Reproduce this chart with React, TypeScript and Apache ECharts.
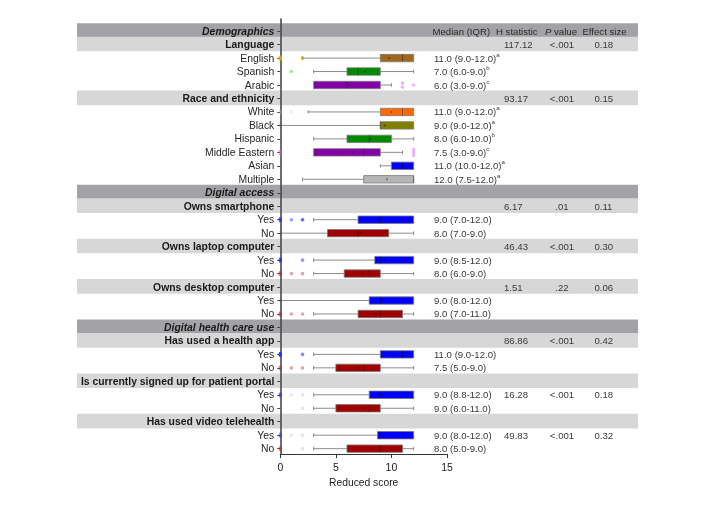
import React, { useEffect, useRef } from 'react';
import * as echarts from 'echarts';

const FONT = '"Liberation Sans", Arial, Helvetica, sans-serif';

const rowLabels = [
  'Demographics', 'Language', 'English', 'Spanish', 'Arabic', 'Race and ethnicity', 'White', 'Black',
  'Hispanic', 'Middle Eastern', 'Asian', 'Multiple', 'Digital access', 'Owns smartphone', 'Yes', 'No',
  'Owns laptop computer', 'Yes', 'No', 'Owns desktop computer', 'Yes', 'No', 'Digital health care use',
  'Has used a health app', 'Yes', 'No', 'Is currently signed up for patient portal', 'Yes', 'No',
  'Has used video telehealth', 'Yes', 'No',
];
const rowKinds = [
  'section', 'group', 'item', 'item', 'item', 'group', 'item', 'item', 'item', 'item', 'item', 'item',
  'section', 'group', 'item', 'item', 'group', 'item', 'item', 'group', 'item', 'item',
  'section', 'group', 'item', 'item', 'group', 'item', 'item', 'group', 'item', 'item',
];

// box rows (indices into rowLabels)
const boxRows = [2, 3, 4, 6, 7, 8, 9, 10, 11, 14, 15, 17, 18, 20, 21, 24, 25, 27, 28, 30, 31];
const boxColors = [
  '#a1661d', '#008a00', '#8200a6', '#ff6a00', '#808000', '#008a00', '#8200a6', '#0000ff', '#b5b5b5',
  '#0000ff', '#a00000', '#0000ff', '#a00000', '#0000ff', '#a00000', '#0000ff', '#a00000',
  '#0000ff', '#a00000', '#0000ff', '#a00000',
];
const pointColors = [
  '#e8a400', '#4cf04c', '#e65cff', '#ffa86a', '#808000', '#00a000', '#d050ff', '#0000ff', '#b5b5b5',
  '#2a2aff', '#c02020', '#2a2aff', '#c02020', '#2a2aff', '#c02020', '#2a2aff', '#c02020',
  '#2a2aff', '#c02020', '#2a2aff', '#c02020',
];
const whiskerLow = [2, 3, 3, 2.5, 0, 3, 3, 9, 2, 3, 0, 3, 3, 0, 3, 3, 3, 3, 3, 3, 3];
const q1 = [9, 6, 3, 9, 9, 6, 3, 10, 7.5, 7, 4.25, 8.5, 5.75, 8, 7, 9, 5, 8, 5, 8.75, 6];
const medians = [11, 7, 6, 11, 9, 8, 7.5, 11, 12, 9, 7, 9, 8, 9, 9, 11, 7.5, 9, 8, 9, 9];
const q3 = [12, 9, 9, 12, 12, 10, 9, 12, 12, 12, 9.75, 12, 9, 12, 11, 12, 9, 12, 9, 12, 11];
const whiskerHigh = [12, 12, 10, 12, 12, 12, 11, 12, 12, 12, 12, 12, 12, 12, 12, 12, 12, 12, 12, 12, 12];
const means = [9.8, 7.6, 6.2, 10, 9.4, 8.1, 6.5, 11, 9.6, 8.8, 7.2, 9.4, 7.4, 9.2, 8.6, 10.2, 7, 9.2, 7.5, 9.3, 8.2];

const medianLabels = [
  '11.0 (9.0-12.0)', '7.0 (6.0-9.0)', '6.0 (3.0-9.0)', '11.0 (9.0-12.0)', '9.0 (9.0-12.0)',
  '8.0 (6.0-10.0)', '7.5 (3.0-9.0)', '11.0 (10.0-12.0)', '12.0 (7.5-12.0)',
  '9.0 (7.0-12.0)', '8.0 (7.0-9.0)', '9.0 (8.5-12.0)', '8.0 (6.0-9.0)', '9.0 (8.0-12.0)', '9.0 (7.0-11.0)',
  '11.0 (9.0-12.0)', '7.5 (5.0-9.0)', '9.0 (8.8-12.0)', '9.0 (6.0-11.0)', '9.0 (8.0-12.0)', '8.0 (5.0-9.0)',
];
const medianSup = ['a', 'b', 'c', 'a', 'a', 'b', 'c', 'a', 'a', '', '', '', '', '', '', '', '', '', '', '', ''];

const headerTitles = ['Median (IQR)', 'H statistic', 'P value', 'Effect size'];
const statRows = [1, 5, 13, 16, 19, 23, 27, 30];
const hStats = ['117.12', '93.17', '6.17', '46.43', '1.51', '86.86', '16.28', '49.83'];
const pValues = ['<.001', '<.001', '.01', '<.001', '.22', '<.001', '<.001', '<.001'];
const effectSizes = ['0.18', '0.15', '0.11', '0.30', '0.06', '0.42', '0.18', '0.32'];

// outliers: row, value, vertical shift (px), opacity
const outlierRows = [2, 2, 3, 4, 4, 4, 6, 6, 9, 9, 9, 9, 14, 14, 14, 17, 17, 18, 18, 18, 21, 21, 21, 24, 24, 25, 25, 25, 27, 27, 27, 28, 30, 30, 30, 31, 31];
const outlierValues = [0, 2, 1, 11, 11, 12, 0, 1, 0, 12, 12, 12, 0, 1, 2, 0, 2, 0, 1, 2, 0, 1, 2, 0, 2, 0, 1, 2, 0, 1, 2, 2, 0, 1, 2, 0, 2];
const outlierShift = [0, 0, 0, -2, 2, 0, 0, 0, 0, -3, 0, 3, 0, 0, 0, 0, 0, 0, 0, 0, 0, 0, 0, 0, 0, 0, 0, 0, 0, 0, 0, 0, 0, 0, 0, 0, 0];
const outlierAlpha = [0.9, 0.85, 0.6, 0.5, 0.5, 0.45, 0.3, 0.3, 0.6, 0.4, 0.4, 0.4, 0.8, 0.45, 0.7, 0.8, 0.5, 0.6, 0.4, 0.4, 0.6, 0.4, 0.4, 0.9, 0.55, 0.5, 0.4, 0.4, 0.6, 0.12, 0.15, 0.15, 0.5, 0.12, 0.15, 0.5, 0.15];

export default function App() {
  const ref = useRef<HTMLDivElement>(null);
  useEffect(() => {
    const chart = echarts.init(ref.current!, null, { renderer: 'svg' });
    const boxData = boxRows.map((r, i) => [r, whiskerLow[i], q1[i], medians[i], q3[i], whiskerHigh[i], means[i]]);
    const bandData = rowKinds.map((k, i) => (k === 'item' ? null : [0, i])).filter((d) => d !== null);
    const tableData = rowLabels.map((_, i) => [0, i]);
    const scatterData = outlierRows.map((r, i) => {
      const bi = boxRows.indexOf(r);
      const atZero = outlierValues[i] === 0;
      return {
        value: [outlierValues[i], r],
        symbolOffset: [0, outlierShift[i]],
        symbolSize: atZero ? [3.6, 5.5] : 3.6,
        itemStyle: { color: pointColors[bi], opacity: outlierAlpha[i] },
      };
    });

    const txt = (text: string, x: number, y: number, align: string, extra: any = {}) => ({
      type: 'text',
      x,
      y,
      style: {
        text,
        align,
        verticalAlign: 'middle',
        fill: '#3a3a3a',
        fontSize: 9.6,
        fontFamily: FONT,
        ...extra,
      },
    });

    const option: any = {
      animation: false,
      grid: [
        { left: 280.3, right: 263, top: 24.4, bottom: 49.6 },
        { left: 280.3, right: 263, top: 19, bottom: 51 },
      ],
      xAxis: [
        { gridIndex: 0, type: 'value', min: 0, max: 15, show: false },
        {
          gridIndex: 1, type: 'value', min: 0, max: 15, interval: 5, z: 6,
          axisLine: { show: true, onZero: false, lineStyle: { color: '#333', width: 1 } },
          axisTick: { show: true, length: 4, lineStyle: { color: '#333' } },
          axisLabel: { fontSize: 10.5, color: '#1a1a1a', fontFamily: FONT, margin: 7 },
          splitLine: { show: false },
          name: 'Reduced score', nameLocation: 'middle', nameGap: 23,
          nameTextStyle: { fontSize: 10.3, color: '#1a1a1a', fontFamily: FONT },
        },
      ],
      yAxis: [
        {
          gridIndex: 0, type: 'category', inverse: true, data: rowLabels, z: 5,
          axisLine: { show: false },
          axisTick: { show: true, alignWithLabel: true, length: 3, lineStyle: { color: '#444' } },
          splitLine: { show: false },
          axisLabel: {
            interval: 0, margin: 6,
            formatter: (value: string, index: number) => {
              const k = rowKinds[index];
              return k === 'section' ? `{s|${value}}` : k === 'group' ? `{g|${value}}` : `{n|${value}}`;
            },
            rich: {
              s: { fontWeight: 'bold', fontStyle: 'italic', fontSize: 10.4, color: '#1a1a1a', fontFamily: FONT },
              g: { fontWeight: 'bold', fontSize: 10.4, color: '#1a1a1a', fontFamily: FONT },
              n: { fontSize: 10.4, color: '#262626', fontFamily: FONT },
            },
          },
        },
        {
          gridIndex: 1, type: 'value', min: 0, max: 1, z: 6,
          axisLine: { show: true, onZero: false, lineStyle: { color: '#4a4a4a', width: 1.6 } },
          axisTick: { show: false }, axisLabel: { show: false }, splitLine: { show: false },
        },
      ],
      series: [
        {
          type: 'custom', xAxisIndex: 0, yAxisIndex: 0, z: 1, clip: false, silent: true,
          data: bandData,
          encode: { x: 0, y: 1 },
          renderItem: (params: any, api: any) => {
            const row = api.value(1);
            const y = api.coord([0, row])[1];
            const s = api.size([0, 1])[1];
            const h = s + 1.2;
            return {
              type: 'rect',
              shape: { x: 77, y: y - h / 2 - 0.6, width: 561, height: h },
              style: { fill: rowKinds[row] === 'section' ? '#a3a3a7' : '#d7d7d7' },
            };
          },
        },
        {
          type: 'custom', xAxisIndex: 0, yAxisIndex: 0, z: 3, clip: false, silent: true,
          data: boxData,
          encode: { x: [1, 2, 3, 4, 5, 6], y: 0 },
          renderItem: (params: any, api: any) => {
            const row = api.value(0);
            const px = (v: number) => api.coord([v, row])[0];
            const y = api.coord([0, row])[1];
            const h = 7.4;
            const xLo = px(api.value(1)), xA = px(api.value(2)), xM = px(api.value(3));
            const xB = px(api.value(4)), xHi = px(api.value(5)), xMean = px(api.value(6));
            const color = boxColors[params.dataIndex];
            const wStyle = { stroke: '#8c8c8c', lineWidth: 1 };
            const children: any[] = [];
            if (xA - xLo > 0.5) {
              children.push({ type: 'line', shape: { x1: xLo, y1: y, x2: xA, y2: y }, style: wStyle });
              children.push({ type: 'line', shape: { x1: xLo, y1: y - 1.8, x2: xLo, y2: y + 1.8 }, style: wStyle });
            }
            if (xHi - xB > 0.5) {
              children.push({ type: 'line', shape: { x1: xB, y1: y, x2: xHi, y2: y }, style: wStyle });
              children.push({ type: 'line', shape: { x1: xHi, y1: y - 1.8, x2: xHi, y2: y + 1.8 }, style: wStyle });
            }
            children.push({
              type: 'rect',
              shape: { x: xA, y: y - h / 2, width: xB - xA, height: h },
              style: { fill: color, stroke: '#7a7a7a', lineWidth: 0.8 },
            });
            children.push({
              type: 'line',
              shape: { x1: xM, y1: y - h / 2, x2: xM, y2: y + h / 2 },
              style: { stroke: 'rgba(0,0,0,0.35)', lineWidth: 1 },
            });
            children.push({
              type: 'circle',
              shape: { cx: xMean, cy: y, r: 0.9 },
              style: { fill: 'rgba(0,0,0,0.45)' },
            });
            return { type: 'group', children };
          },
        },
        {
          type: 'scatter', xAxisIndex: 0, yAxisIndex: 0, z: 7, clip: false, silent: true,
          symbol: 'circle', symbolSize: 3.6,
          data: scatterData,
        },
        {
          type: 'custom', xAxisIndex: 0, yAxisIndex: 0, z: 4, clip: false, silent: true,
          data: tableData,
          encode: { x: 0, y: 1 },
          renderItem: (params: any, api: any) => {
            const row = api.value(1);
            const y = api.coord([0, row])[1];
            const children: any[] = [];
            if (row === 0) {
              children.push(txt(headerTitles[0], 432.5, y, 'left', { fill: '#2a2a2a' }));
              children.push(txt(headerTitles[1], 496, y, 'left', { fill: '#2a2a2a' }));
              children.push(txt('{i|P} value', 561, y, 'center', {
                fill: '#2a2a2a',
                rich: { i: { fontStyle: 'italic', fontSize: 9.6, fontFamily: FONT, fill: '#2a2a2a' } },
              }));
              children.push(txt(headerTitles[3], 604.5, y, 'center', { fill: '#2a2a2a' }));
            }
            const bi = boxRows.indexOf(row);
            if (bi >= 0) {
              const sup = medianSup[bi];
              children.push(txt(`{m|${medianLabels[bi]}}` + (sup ? `{s|${sup}}` : ''), 434, y, 'left', {
                rich: {
                  m: { fontSize: 9.6, fontFamily: FONT, lineHeight: 14, fill: '#3a3a3a' },
                  s: { fontSize: 6.2, fontFamily: FONT, verticalAlign: 'top', fill: '#3a3a3a' },
                },
              }));
            }
            const si = statRows.indexOf(row);
            if (si >= 0) {
              children.push(txt(hStats[si], 504, y, 'left'));
              children.push(txt(pValues[si], 562, y, 'center'));
              children.push(txt(effectSizes[si], 594.5, y, 'left'));
            }
            return { type: 'group', children };
          },
        },
      ],
    };
    chart.setOption(option);
    return () => chart.dispose();
  }, []);
  return <div ref={ref} style={{ position: 'fixed', left: 0, top: 0, width: 710, height: 505 }} />;
}
